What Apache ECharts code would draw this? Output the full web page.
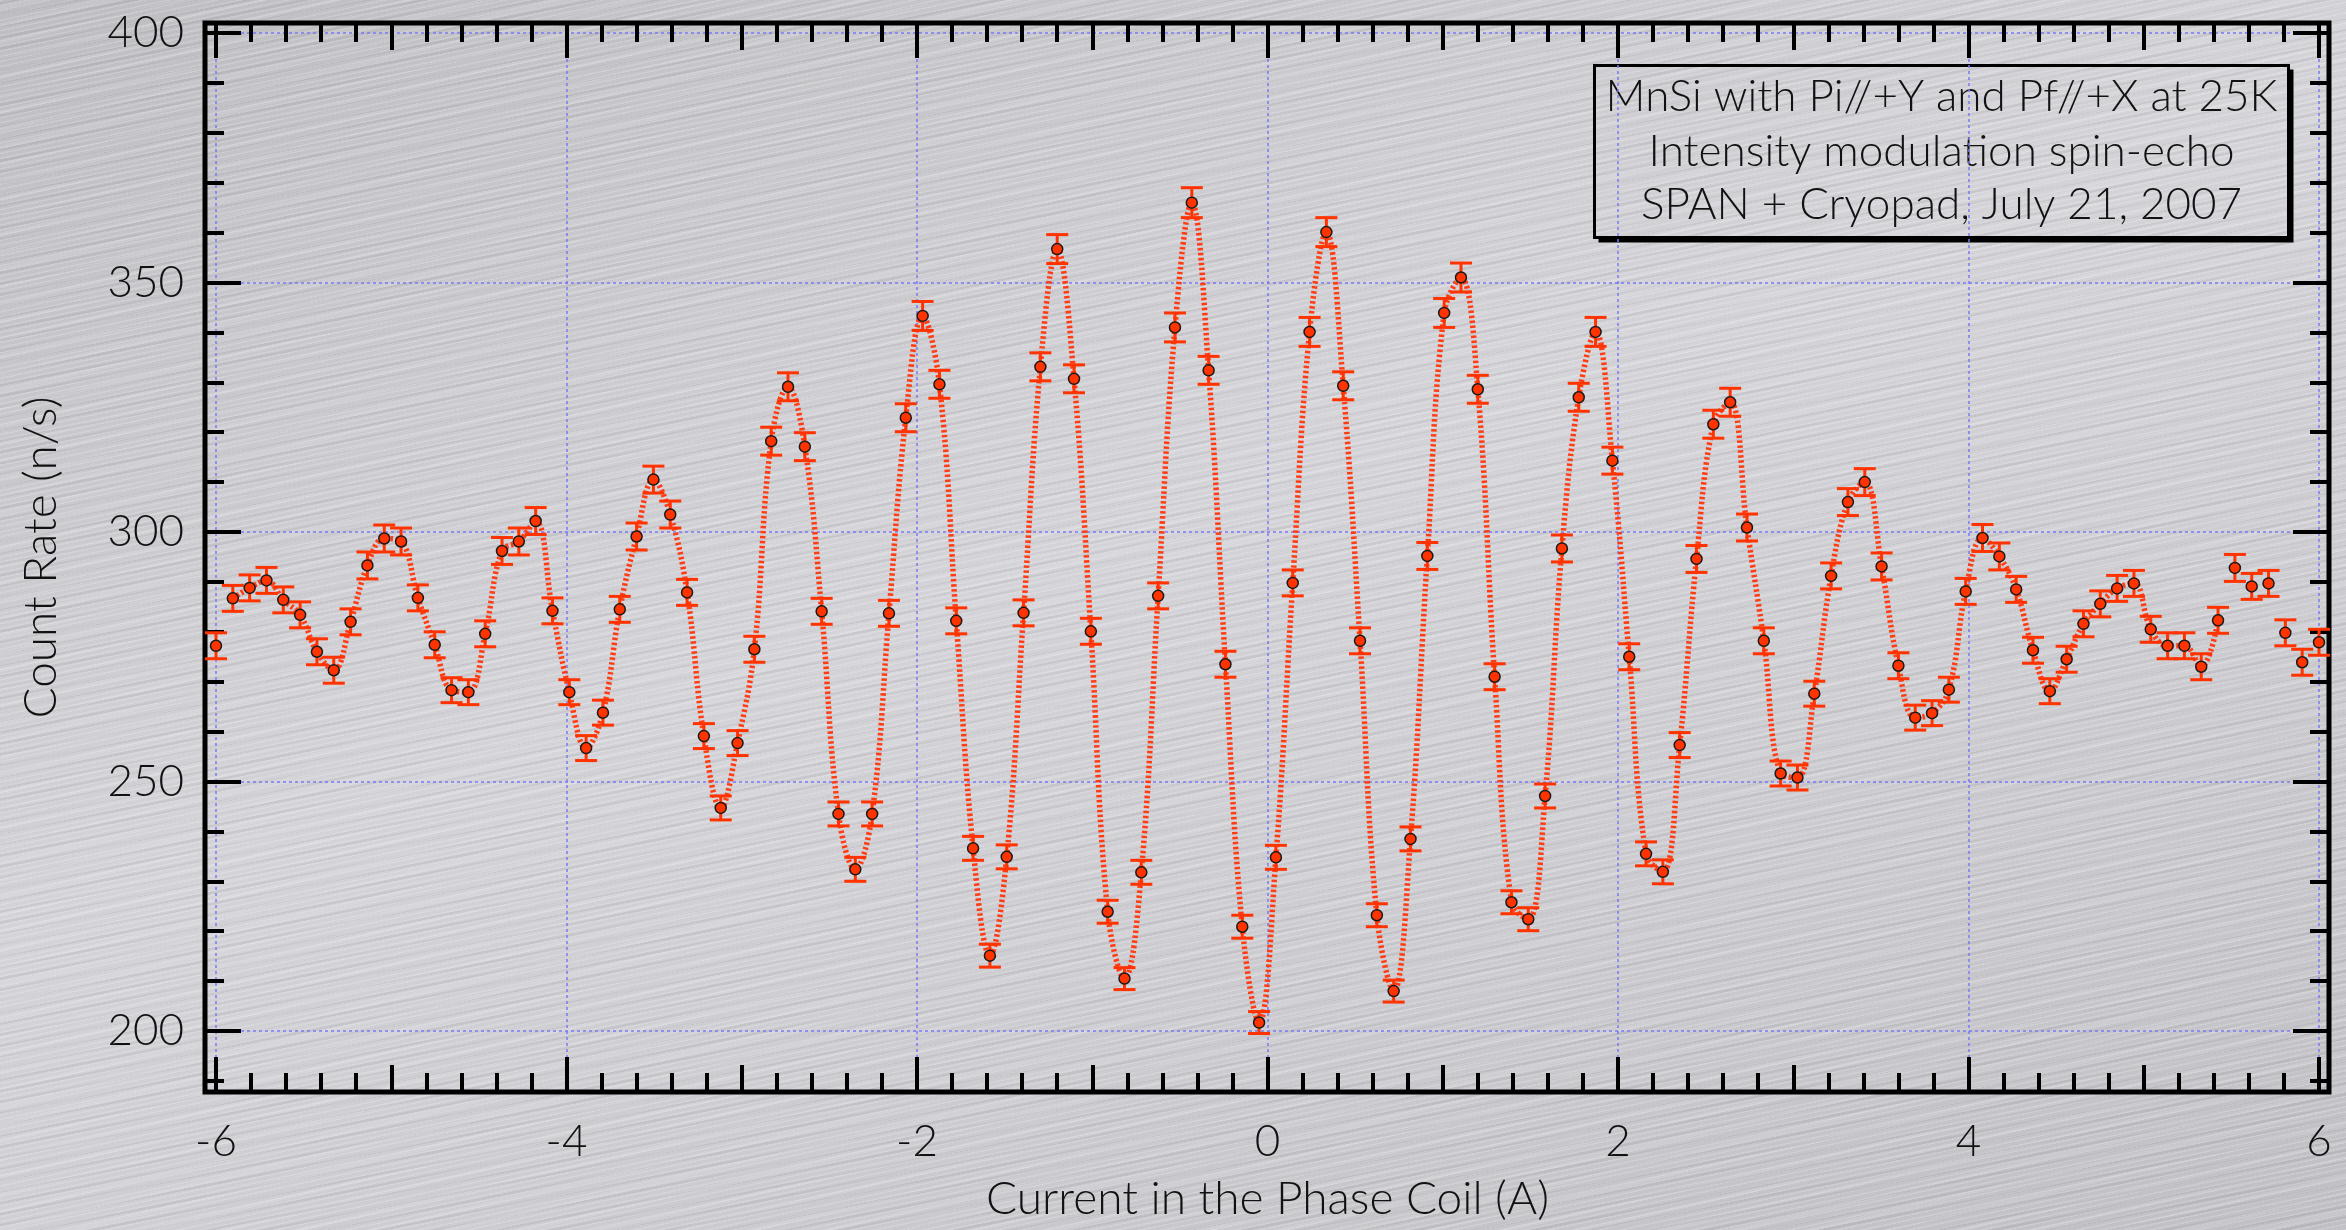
<!DOCTYPE html>
<html lang="en">
<head>
<meta charset="UTF-8">
<title>MnSi spin-echo</title>
<script src="https://cdn.jsdelivr.net/npm/echarts@6.0.0/dist/echarts.min.js"></script>
<style>
  html, body { margin: 0; padding: 0; }
  body {
    width: 2346px; height: 1230px; overflow: hidden;
    background-color: #c8c7cc;
    background-image:
      repeating-linear-gradient(-12deg, rgba(255,255,255,0.18) 0px, rgba(255,255,255,0.18) 1px, rgba(0,0,0,0) 2px, rgba(0,0,0,0) 5px),
      repeating-linear-gradient(-11deg, rgba(0,0,0,0.05) 0px, rgba(0,0,0,0.05) 2px, rgba(0,0,0,0) 3px, rgba(0,0,0,0) 11px),
      repeating-linear-gradient(-13deg, rgba(255,255,255,0.12) 0px, rgba(255,255,255,0.12) 3px, rgba(0,0,0,0) 4px, rgba(0,0,0,0) 17px),
      linear-gradient(160deg, #bebdc2 0%, #d4d3d8 45%, #cccbd0 70%, #c0bfc4 100%);
  }
  #main { width: 2346px; height: 1230px; }
</style>
</head>
<body>
<div id="main"></div>
<script>
// current in the phase coil (A)
var current = [-6.000, -5.904, -5.808, -5.712, -5.616, -5.520, -5.424, -5.328, -5.232, -5.136,
  -5.040, -4.944, -4.848, -4.752, -4.656, -4.560, -4.464, -4.368, -4.272, -4.176,
  -4.080, -3.984, -3.888, -3.792, -3.696, -3.600, -3.504, -3.408, -3.312, -3.216,
  -3.120, -3.024, -2.928, -2.832, -2.736, -2.640, -2.544, -2.448, -2.352, -2.256,
  -2.160, -2.064, -1.968, -1.872, -1.776, -1.680, -1.584, -1.488, -1.392, -1.296,
  -1.200, -1.104, -1.008, -0.912, -0.816, -0.720, -0.624, -0.528, -0.432, -0.336,
  -0.240, -0.144, -0.048, 0.048, 0.144, 0.240, 0.336, 0.432, 0.528, 0.624,
  0.720, 0.816, 0.912, 1.008, 1.104, 1.200, 1.296, 1.392, 1.488, 1.584,
  1.680, 1.776, 1.872, 1.968, 2.064, 2.160, 2.256, 2.352, 2.448, 2.544,
  2.640, 2.736, 2.832, 2.928, 3.024, 3.120, 3.216, 3.312, 3.408, 3.504,
  3.600, 3.696, 3.792, 3.888, 3.984, 4.080, 4.176, 4.272, 4.368, 4.464,
  4.560, 4.656, 4.752, 4.848, 4.944, 5.040, 5.136, 5.232, 5.328, 5.424,
  5.520, 5.616, 5.712, 5.808, 5.904, 6.000];

// count rate (n/s)
var countRate = [277.2, 286.7, 288.8, 290.3, 286.4, 283.4, 276.0, 272.3, 282.0, 293.3,
  298.7, 298.1, 286.8, 277.4, 268.3, 267.9, 279.6, 296.2, 298.1, 302.2,
  284.2, 267.9, 256.7, 263.8, 284.5, 299.1, 310.5, 303.5, 287.9, 259.1,
  244.7, 257.7, 276.5, 318.2, 329.1, 317.1, 284.1, 243.5, 232.4, 243.5,
  283.7, 322.9, 343.3, 329.6, 282.2, 236.6, 215.1, 234.9, 283.8, 333.1,
  356.7, 330.7, 280.1, 223.9, 210.5, 231.8, 287.2, 341.0, 366.0, 332.4,
  273.5, 220.9, 201.7, 234.8, 289.8, 340.1, 360.1, 329.3, 278.2, 223.2,
  208.0, 238.5, 295.2, 343.9, 351.0, 328.6, 271.0, 225.8, 222.4, 247.1,
  296.7, 327.0, 340.1, 314.3, 275.0, 235.5, 231.9, 257.3, 294.6, 321.6,
  326.0, 300.9, 278.2, 251.6, 250.8, 267.6, 291.2, 306.0, 310.0, 293.1,
  273.2, 262.8, 263.7, 268.4, 288.1, 298.8, 295.1, 288.5, 276.3, 268.1,
  274.5, 281.6, 285.6, 288.7, 289.7, 280.5, 277.2, 277.2, 273.0, 282.3,
  292.8, 289.1, 289.7, 279.8, 273.9, 277.9];

// error bar half-height (n/s)
var rateError = [2.6, 2.6, 2.6, 2.6, 2.6, 2.6, 2.6, 2.6, 2.6, 2.7,
  2.7, 2.7, 2.6, 2.6, 2.5, 2.5, 2.6, 2.7, 2.7, 2.7,
  2.6, 2.5, 2.5, 2.5, 2.6, 2.7, 2.7, 2.7, 2.6, 2.5,
  2.4, 2.5, 2.6, 2.8, 2.8, 2.8, 2.6, 2.4, 2.4, 2.4,
  2.6, 2.8, 2.9, 2.8, 2.6, 2.4, 2.3, 2.4, 2.6, 2.8,
  2.9, 2.8, 2.6, 2.3, 2.2, 2.4, 2.6, 2.9, 3.0, 2.8,
  2.6, 2.3, 2.2, 2.4, 2.6, 2.9, 2.9, 2.8, 2.6, 2.3,
  2.2, 2.4, 2.7, 2.9, 2.9, 2.8, 2.6, 2.3, 2.3, 2.4,
  2.7, 2.8, 2.9, 2.7, 2.6, 2.4, 2.4, 2.5, 2.7, 2.8,
  2.8, 2.7, 2.6, 2.5, 2.5, 2.5, 2.6, 2.7, 2.7, 2.7,
  2.6, 2.5, 2.5, 2.5, 2.6, 2.7, 2.7, 2.6, 2.6, 2.5,
  2.6, 2.6, 2.6, 2.6, 2.6, 2.6, 2.6, 2.6, 2.6, 2.6,
  2.7, 2.6, 2.6, 2.6, 2.6, 2.6];

// fitted curve drawn through points 1..119
var fitFirst = 1, fitLast = 119;

var xTicks = [-6, 6, 2];      // min, max, labelled step
var yTicks = [200, 400, 50];
var noteLines = ['MnSi with Pi//+Y and Pf//+X at 25K',
  'Intensity modulation spin-echo',
  'SPAN + Cryopad, July 21, 2007'];

var FONT = 'Lato';
var RED = '#ff3300';
var GRIDCOL = '#7a7af5';

var pts = [], errs = [], fit = [];
for (var i = 0; i < current.length; i++) {
  pts.push([current[i], countRate[i]]);
  errs.push([current[i], countRate[i], rateError[i]]);
  if (i >= fitFirst && i <= fitLast) fit.push([current[i], countRate[i]]);
}

var myChart = echarts.init(document.getElementById('main'));

function hidden(gi) { return { type: 'value', gridIndex: gi, show: false, min: 0, max: 1 }; }

var tickStyle = { color: '#000', width: 4 };
var splitStyle = { show: true, lineStyle: { color: GRIDCOL, width: 1.5, type: [3, 3] } };
var labelFont = { fontSize: 44, color: '#111', fontFamily: FONT, fontWeight: 300 };
var nameFont = { fontSize: 46, color: '#111', fontFamily: FONT, fontWeight: 300 };

var option = {
  backgroundColor: 'transparent',
  animation: false,
  textStyle: { fontFamily: FONT },
  grid: [
    { left: 205, right: 17, top: 23, bottom: 138, show: true, borderColor: '#000', borderWidth: 5, backgroundColor: 'transparent', outerBoundsMode: 'none' },
    { left: 216, right: 27, top: 23, bottom: 138, outerBoundsMode: 'none' },
    { left: 205, right: 17, top: 33, bottom: 199, outerBoundsMode: 'none' },
    { left: 205, right: 17, top: 33, bottom: 149.1, outerBoundsMode: 'none' },
    { left: 216, right: 27, top: 33, bottom: 199, outerBoundsMode: 'none' }
  ],
  xAxis: [
    hidden(0),
    { type: 'value', gridIndex: 1, position: 'bottom', min: xTicks[0], max: xTicks[1], interval: xTicks[2],
      axisLine: { show: false },
      axisTick: { inside: true, length: 35, lineStyle: tickStyle },
      minorTick: { show: true, splitNumber: 10, length: 19, lineStyle: tickStyle },
      axisLabel: Object.assign({ margin: 28 }, labelFont),
      splitLine: splitStyle,
      name: 'Current in the Phase Coil (A)', nameLocation: 'middle', nameGap: 84,
      nameTextStyle: nameFont },
    { type: 'value', gridIndex: 1, position: 'bottom', min: xTicks[0], max: xTicks[1], interval: 1,
      axisLine: { show: false }, axisLabel: { show: false }, splitLine: { show: false },
      axisTick: { inside: true, length: 27, lineStyle: tickStyle } },
    { type: 'value', gridIndex: 1, position: 'top', min: xTicks[0], max: xTicks[1], interval: xTicks[2],
      axisLine: { show: false }, axisLabel: { show: false }, splitLine: { show: false },
      axisTick: { inside: true, length: 35, lineStyle: tickStyle },
      minorTick: { show: true, splitNumber: 10, length: 19, lineStyle: tickStyle } },
    { type: 'value', gridIndex: 1, position: 'top', min: xTicks[0], max: xTicks[1], interval: 1,
      axisLine: { show: false }, axisLabel: { show: false }, splitLine: { show: false },
      axisTick: { inside: true, length: 27, lineStyle: tickStyle } },
    hidden(2),
    hidden(3),
    { type: 'value', gridIndex: 4, show: false, min: xTicks[0], max: xTicks[1] }
  ],
  yAxis: [
    // frame grid axis: carries only the name so it centres on the frame
    { type: 'value', gridIndex: 0, position: 'left', min: 0, max: 1,
      axisLine: { show: false }, axisTick: { show: false }, axisLabel: { show: false }, splitLine: { show: false },
      name: 'Count Rate (n/s)', nameLocation: 'middle', nameGap: 141, nameTextStyle: nameFont },
    hidden(1),
    { type: 'value', gridIndex: 2, position: 'left', min: yTicks[0], max: yTicks[1], interval: yTicks[2],
      axisLine: { show: false },
      axisTick: { inside: true, length: 36, lineStyle: tickStyle },
      axisLabel: Object.assign({ margin: 21 }, labelFont),
      splitLine: splitStyle },
    { type: 'value', gridIndex: 2, position: 'right', min: yTicks[0], max: yTicks[1], interval: yTicks[2],
      axisLine: { show: false }, axisLabel: { show: false }, splitLine: { show: false },
      axisTick: { inside: true, length: 36, lineStyle: tickStyle } },
    { type: 'value', gridIndex: 3, position: 'left', min: 190, max: yTicks[1], interval: 10,
      axisLine: { show: false }, axisLabel: { show: false }, splitLine: { show: false },
      axisTick: { inside: true, length: 19, lineStyle: tickStyle } },
    { type: 'value', gridIndex: 3, position: 'right', min: 190, max: yTicks[1], interval: 10,
      axisLine: { show: false }, axisLabel: { show: false }, splitLine: { show: false },
      axisTick: { inside: true, length: 19, lineStyle: tickStyle } },
    { type: 'value', gridIndex: 4, show: false, min: yTicks[0], max: yTicks[1] }
  ],
  series: [
    {
      type: 'line', xAxisIndex: 7, yAxisIndex: 6, data: fit,
      smooth: 0.4, showSymbol: false, clip: false, z: 2,
      lineStyle: { color: '#ff3c14', width: 5.5, type: [2.5, 2.5], cap: 'butt' }
    },
    {
      type: 'custom', xAxisIndex: 7, yAxisIndex: 6, data: errs, z: 3, clip: false,
      encode: { x: 0, y: 1 },
      renderItem: function (params, api) {
        var x = api.value(0), y = api.value(1), e = api.value(2);
        var lo = api.coord([x, y - e]);
        var hi = api.coord([x, y + e]);
        var w = 11;
        var st = { stroke: RED, lineWidth: 3 };
        return {
          type: 'group',
          children: [
            { type: 'line', shape: { x1: lo[0], y1: lo[1], x2: hi[0], y2: hi[1] }, style: st },
            { type: 'line', shape: { x1: lo[0] - w, y1: lo[1], x2: lo[0] + w, y2: lo[1] }, style: st },
            { type: 'line', shape: { x1: hi[0] - w, y1: hi[1], x2: hi[0] + w, y2: hi[1] }, style: st }
          ]
        };
      }
    },
    {
      type: 'scatter', xAxisIndex: 7, yAxisIndex: 6, data: pts, z: 4,
      symbol: 'circle', symbolSize: 11,
      itemStyle: { color: RED, borderColor: '#1a1a1a', borderWidth: 1.5, opacity: 1 }
    }
  ],
  graphic: [
    {
      type: 'group', left: 1593, top: 64,
      children: [
        // drop shadow along right and bottom edges
        { type: 'polyline', shape: { points: [[694 + 3, 4], [694 + 3, 172 + 3], [4, 172 + 3]] },
          style: { stroke: '#000', lineWidth: 4, fill: null } },
        { type: 'rect', shape: { x: 0, y: 0, width: 694, height: 172 },
          style: { fill: 'transparent', stroke: '#000', lineWidth: 3 } },
        { type: 'text', x: 347, y: 31,
          style: { text: noteLines[0], font: '300 44px ' + FONT, fill: '#111', align: 'center', verticalAlign: 'middle' } },
        { type: 'text', x: 347, y: 86,
          style: { text: noteLines[1], font: '300 44px ' + FONT, fill: '#111', align: 'center', verticalAlign: 'middle' } },
        { type: 'text', x: 347, y: 139,
          style: { text: noteLines[2], font: '300 44px ' + FONT, fill: '#111', align: 'center', verticalAlign: 'middle' } }
      ]
    }
  ]
};

myChart.setOption(option);
</script>
</body>
</html>
